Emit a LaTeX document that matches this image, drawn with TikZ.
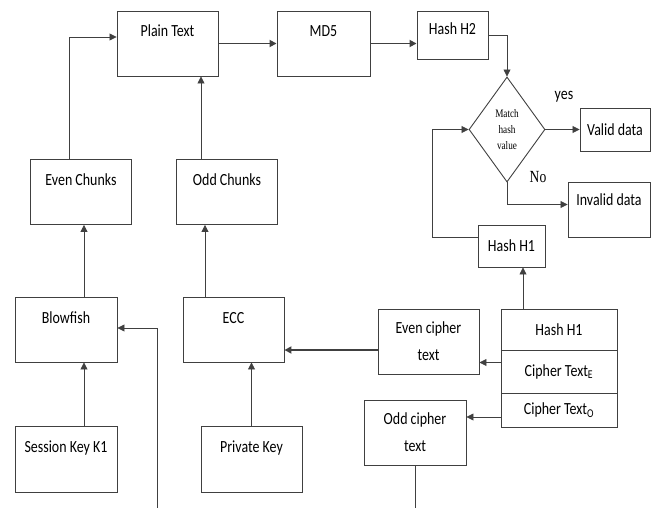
\documentclass[tikz,border=0pt]{standalone}
\usepackage{fontspec}
\setmainfont{Carlito}[FakeStretch=0.82]
\newfontfamily\serifface{Liberation Serif}[FakeStretch=0.8]
\usetikzlibrary{arrows.meta,shapes.geometric}

\begin{document}
\begin{tikzpicture}[x=1pt, y=-1pt, every node/.style={font=\fontsize{17}{27}\selectfont}, box/.style={draw=black!75, line width=0.9pt, minimum width=101pt, minimum height=65pt, inner sep=0pt, align=center}, topbox/.style={box, text height=12pt, text depth=25pt}, arrow/.style={-{Triangle[length=7pt,width=7pt]}, draw=black!75, line width=0.8pt}, wide/.style={arrow, line width=1.7pt}, line/.style={draw=black!75, line width=0.8pt}]
\useasboundingbox (0,0) rectangle (659,508);
\node[topbox] (plain) at (167.5,43.5) {Plain Text};
\node[topbox, minimum width=93pt] (md5) at (323.5,43.5) {MD5};
\node[box, minimum width=71pt, minimum height=48pt, text height=12pt, text depth=14pt] (h2) at (452.5,35.5) {Hash H2};
\node[diamond, draw=black!75, line width=0.9pt, minimum width=76pt, minimum height=105pt, inner sep=0pt, align=center, font=\serifface\fontsize{11.5}{16}\selectfont] (match) at (507,129.5) {Match\\hash\\value};
\node[box, minimum width=70pt, minimum height=43pt] (valid) at (615,129.5) {Valid data};
\node[box, minimum width=82pt, minimum height=55pt, text height=12pt, text depth=19pt] (invalid) at (609,209.5) {Invalid data};
\node[box, minimum width=67pt, minimum height=42pt] (h1) at (511.5,246) {Hash H1};
\node[box, minimum width=116pt, minimum height=41pt] (t1) at (559,329.5) {Hash H1};
\node[box, minimum width=116pt, minimum height=43pt] (t2) at (559,371.5) {Cipher Text\textsubscript{E}};
\node[box, minimum width=116pt, minimum height=34pt] (t3) at (559,410) {Cipher Text\textsubscript{O}};
\node[box] (evenct) at (428.5,341.5) {Even cipher\\text};
\node[box, minimum width=102pt] (oddct) at (415,432.5) {Odd cipher\\text};
\node[topbox] (ecc) at (233.5,329.5) {ECC};
\node[topbox, minimum width=102pt] (blow) at (66,329.5) {Blowfish};
\node[topbox] (evench) at (81,192) {Even Chunks};
\node[topbox] (oddch) at (227,192) {Odd Chunks};
\node[topbox, minimum width=102pt, minimum height=66pt] (sk) at (66,459) {Session Key K1};
\node[topbox, minimum height=66pt] (pk) at (251.5,459) {Private Key};
\node (yes) at (564,97) {yes};
\node[font=\serifface\fontsize{17}{16}\selectfont] (no) at (538,177) {No};
\coordinate (oddout) at (415,508);
\coordinate (keyin) at (157,508);
\draw[wide] (plain.east) -- (md5.west);
\draw[wide] (md5.east) -- (md5.east -| h2.west);
\draw[arrow] (h2.east) -| (match.north);
\draw[arrow] (match.east) -- (valid.west);
\draw[arrow] (match.south) |- ([yshift=5pt]invalid.west);
\draw[arrow] ([yshift=9pt]h1.west) -- ++(-45,0) |- (match.west);
\draw[arrow] ([xshift=-36pt]t1.north) -- ([xshift=-36pt]t1.north |- h1.south);
\draw[arrow] ([yshift=9pt]t2.west) -- ([yshift=9pt]t2.west -| evenct.east);
\draw[arrow] ([yshift=-7pt]t3.west) -- ([yshift=-7pt]t3.west -| oddct.east);
\draw[wide] ([yshift=-8.5pt]evenct.west) -- ([yshift=-8.5pt]evenct.west -| ecc.east);
\draw[line] (oddct.south) -- (oddout);
\draw[arrow] (keyin) |- ([yshift=1.5pt]blow.east);
\draw[arrow] ([xshift=18pt]sk.north) -- ([xshift=18pt]blow.south);
\draw[arrow] (pk.north) -- (pk.north |- ecc.south);
\draw[arrow] ([xshift=3pt]evench.south |- blow.north) -- ([xshift=3pt]evench.south);
\draw[arrow] ([xshift=-22pt]oddch.south |- ecc.north) -- ([xshift=-22pt]oddch.south);
\draw[arrow] ([xshift=-12pt]evench.north) |- ([yshift=6.5pt]plain.west);
\draw[arrow] ([xshift=33.5pt]plain.south |- oddch.north) -- ([xshift=33.5pt]plain.south);
\end{tikzpicture}
\end{document}
